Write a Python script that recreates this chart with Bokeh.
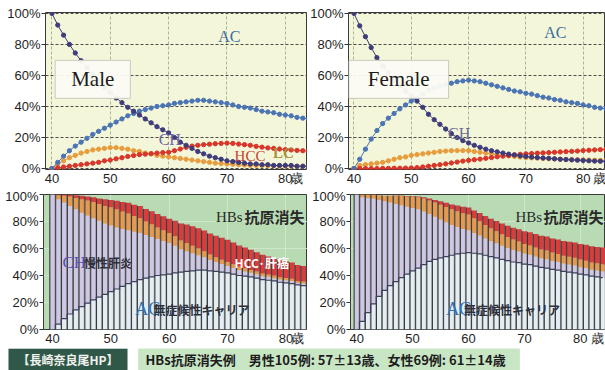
from bokeh.plotting import figure
from bokeh.layouts import column, row
from bokeh.models import (Range1d, Label, FixedTicker, PrintfTickFormatter,
                          ColumnDataSource, BoxAnnotation)
from bokeh.embed import file_html
from bokeh.resources import INLINE

# Age (years) on the x axis
ages = list(range(40, 85))

# Male: share of carriers in each clinical state (%)
male_ac = [0, 4, 8, 11.5, 14.5, 17, 19.5, 22, 24, 26, 28, 30, 32, 34, 35.5, 37, 38, 39,
           40, 40.5, 41, 42, 42.5, 43, 43.5, 44, 44, 43.5, 43, 42.5, 42, 41, 40, 39.5,
           39, 38, 37, 36.5, 36, 35, 34.5, 34, 33, 32.5, 32]
male_ch = [100, 92.5, 86, 80, 74.5, 69.5, 65, 60.5, 56.5, 52.5, 49, 45.5, 42.5, 39.5, 37,
           34.5, 32, 29.5, 27, 25, 23, 20, 17, 15, 13, 11, 9.5, 8, 7, 6, 5, 4.5, 4, 3.5,
           3, 3, 2.5, 2.5, 2, 2, 2, 2, 1.5, 1.5, 1.5]
male_lc = [0, 3, 5, 7, 8.5, 10, 11, 12, 12.5, 13, 13.5, 13.5, 13, 12.5, 11.5, 11, 10,
           9.5, 8.5, 8, 7.5, 7, 6.5, 6, 5.5, 5, 4.5, 4, 3.5, 3.2, 3, 2.8, 2.5, 2.3, 2, 2,
           2, 1.8, 1.8, 1.7, 1.7, 1.6, 1.5, 1.5, 1.5]
male_hcc = [0, 0.5, 1, 1.5, 2, 2.5, 3, 3.5, 4, 5, 5.5, 6.3, 7, 7.8, 8.4, 9, 9.3, 9.6, 10,
            10.3, 10.5, 11.5, 12.6, 13.7, 14.5, 15, 15.4, 15.7, 16, 16.2, 16.4, 16.2,
            15.8, 15.4, 15, 14.3, 13.8, 13.3, 13, 12.6, 12.2, 12, 11.7, 11.5, 11.3]

# Female: share of carriers in each clinical state (%)
female_ac = [0, 6, 12.5, 19, 24.5, 29, 32.5, 35.5, 38.5, 41, 43.5, 45.5, 48, 50.5, 52,
             53, 54, 55, 56, 56.5, 57, 56.5, 56, 55, 54, 53, 52, 51, 50, 49.5, 48.5, 48,
             47, 46, 45.5, 44.5, 44, 43, 42.5, 42, 41, 40.5, 39.5, 39, 38.5]
female_ch = [100, 92, 85, 78, 71.5, 66, 61.5, 57.5, 53.5, 50, 46.5, 43.5, 39.5, 35, 31.5,
             28.5, 25.5, 22.5, 20, 18, 16.5, 15, 13.7, 12.5, 11.5, 10.8, 10, 9.3, 8.8,
             8.2, 7.8, 7.4, 7.1, 6.8, 6.6, 6.3, 6, 5.8, 5.6, 5.4, 5.2, 5, 4.8, 4.7, 4.6]
female_lc = [0, 2, 2.5, 3, 3.5, 4, 5, 6, 7, 7.5, 8.5, 9, 9.5, 10, 10.5, 11, 11.3, 11.5,
             11.6, 11.6, 11.6, 11, 10.5, 10, 9.5, 9, 8.5, 8.2, 7.8, 7.4, 7, 6.9, 6.7, 6.5,
             6.4, 6.2, 6, 5.9, 5.8, 5.7, 5.6, 5.5, 5.4, 5.3, 5.2]
female_hcc = [0, 0, 0, 0, 0, 0.1, 0.1, 0.2, 0.2, 0.3, 0.4, 0.6, 1, 1.5, 2, 2.5, 3, 3.6,
              4.2, 4.8, 5.3, 5.7, 6.1, 6.6, 7.1, 7.6, 8, 8.4, 8.8, 9.2, 9.5, 9.7, 9.9,
              10.1, 10.3, 10.5, 10.7, 10.9, 11.1, 11.3, 11.6, 11.8, 12, 12.2, 12.4]

x_ticks = [40, 50, 60, 70, 80]
y_ticks = [0, 20, 40, 60, 80, 100]
unit_label = "歳"

SANS = "Liberation Sans"
SERIF = "Liberation Serif"
CJK = "Noto Sans CJK JP"

C_AC, C_CH, C_LC, C_HCC = "#4a74b4", "#3e3c7a", "#e79d3e", "#d8362a"
B_AC, B_CH, B_LC, B_HCC = "#e3edf3", "#cec8e4", "#e49a52", "#dc3b3b"


def style_axes(p, unit_at):
    # the unit sits on an extra tick at the right end of the age axis
    p.xaxis.ticker = FixedTicker(ticks=x_ticks + [unit_at])
    p.xaxis.major_label_overrides = {unit_at: unit_label}
    p.xgrid.ticker = FixedTicker(ticks=x_ticks)
    p.yaxis.ticker = FixedTicker(ticks=y_ticks)
    p.yaxis.formatter = PrintfTickFormatter(format="%d%%")
    for ax in (p.xaxis[0], p.yaxis[0]):
        ax.axis_line_color = None
        ax.minor_tick_line_color = None
        ax.major_label_text_font = SANS
        ax.major_label_text_font_size = "13px"
        ax.major_label_text_color = "#1e1e1e"
    p.xaxis.major_tick_line_color = None
    p.xaxis.major_tick_out = 0
    p.xaxis.major_label_standoff = 1
    p.yaxis.major_tick_in = 0
    p.yaxis.major_tick_out = 4
    p.yaxis.major_tick_line_color = "#333333"
    p.yaxis.major_label_standoff = 1


def make_top(width, border_left, x_start, x_end, unit_at, ac, ch, lc, hcc):
    p = figure(width=width, height=188, x_range=Range1d(x_start, x_end),
               y_range=Range1d(-0.6, 100.6), output_backend="svg",
               toolbar_location=None, min_border_left=border_left,
               min_border_right=0, min_border_top=12, min_border_bottom=14,
               background_fill_color="#f4f6d9", border_fill_color="white",
               outline_line_color="#3a3a3a")
    style_axes(p, unit_at)
    p.ygrid.grid_line_color = "#4d4d4d"
    p.ygrid.grid_line_dash = "3 2"
    p.xgrid.grid_line_color = "#a8b398"
    p.xgrid.grid_line_dash = "3 2"
    src = ColumnDataSource(dict(age=ages, ac=ac, ch=ch, lc=lc, hcc=hcc))
    for key, col in (("lc", C_LC), ("hcc", C_HCC), ("ac", C_AC), ("ch", C_CH)):
        p.line("age", key, source=src, line_color=col, line_width=1)
        p.scatter("age", key, source=src, size=4.3, fill_color=col, line_color=col)
    return p


def make_bottom(width, border_left, x_start, x_end, unit_at, ac, ch, lc, hcc):
    p = figure(width=width, height=160, x_range=Range1d(x_start, x_end),
               y_range=Range1d(0, 100), output_backend="svg",
               toolbar_location=None, min_border_left=border_left,
               min_border_right=0, min_border_top=6, min_border_bottom=14,
               background_fill_color="#b8dbb3", border_fill_color="white",
               outline_line_color="#3a3a3a")
    style_axes(p, unit_at)
    p.grid.grid_line_color = "#d3eacf"
    p.grid.grid_line_alpha = 0.8
    total = [a + b + c + d for a, b, c, d in zip(ac, ch, lc, hcc)]
    src = ColumnDataSource(dict(age=ages, ac=ac, ch=ch, lc=lc, hcc=hcc, total=total,
                                left=[a - 0.45 for a in ages],
                                right=[a + 0.45 for a in ages]))
    p.vbar_stack(["ac", "ch", "lc", "hcc"], x="age", width=0.9, source=src,
                 color=[B_AC, B_CH, B_LC, B_HCC], line_color=None)
    p.segment(x0="left", y0=0, x1="left", y1="total", source=src,
              line_color="#2a2a2a", line_width=1)
    p.segment(x0="right", y0=0, x1="right", y1="total", source=src,
              line_color="#5a5a5a", line_width=0.6)
    p.step("age", "ac", source=src, mode="center", line_color="#3c4158", line_width=1.2)
    return p


def boxed_name(p, x, y, text, pad):
    p.add_layout(Label(x=x, y=y, text=text, text_align="center", text_baseline="middle",
                       text_font=SERIF, text_font_size="21px", text_color="#b9b9a8",
                       text_alpha=0.0, x_offset=3, y_offset=-3,
                       background_fill_color="#b9b9a8",
                       background_fill_alpha=0.45, padding=(pad, 7)))
    p.add_layout(Label(x=x, y=y, text=text, text_align="center", text_baseline="middle",
                       text_font=SERIF, text_font_size="21px", text_color="#1b1b1b",
                       background_fill_color="#fbfbf4", background_fill_alpha=0.95,
                       border_line_color="#c9c9bd", padding=(pad, 7)))


def tag(p, x, y, text, color, size, font=SERIF, style="normal"):
    p.add_layout(Label(x=x, y=y, text=text, text_font=font, text_font_size=size,
                       text_color=color, text_font_style=style, text_baseline="middle"))


# ---- top row: fractions by state ----
top_m = make_top(307, 45, 38.9, 83.8, 82, male_ac, male_ch, male_lc, male_hcc)
tag(top_m, 68.5, 85, "AC", "#3b6d9c", "16px")
tag(top_m, 58.3, 18.5, "CH", "#6a68a8", "16px")
tag(top_m, 71.3, 8, "HCC", "#c8402c", "15px")
tag(top_m, 77.9, 10.0, "LC", "#a8923a", "15px", SERIF, "bold")
boxed_name(top_m, 47.0, 57.5, "Male", 16)

top_f = make_top(298, 40, 39.04, 83.9, 83, female_ac, female_ch, female_lc, female_hcc)
tag(top_f, 73.2, 88, "AC", "#3b6d9c", "16px")
tag(top_f, 56.4, 22.5, "CH", "#6a6d98", "16px")
boxed_name(top_f, 47.8, 57.5, "Female", 19)

# ---- bottom row: stacked composition ----
bot_m = make_bottom(307, 43, 38.46, 83.7, 82, male_ac, male_ch, male_lc, male_hcc)
tag(bot_m, 68.0, 83.5, "HBs", "#2a2a2a", "15px")
tag(bot_m, 72.9, 83.5, "抗原消失", "#2a2a2a", "15px", CJK, "bold")
tag(bot_m, 41.7, 49.6, "CH", "#5a4fb5", "17px")
tag(bot_m, 45.4, 49.6, "慢性肝炎", "#2f2f3a", "12px", CJK, "bold")
tag(bot_m, 71.2, 50, "HCC·肝癌", "#ffffff", "12px", CJK, "bold")
tag(bot_m, 54.2, 15, "AC", "#2f6fb8", "18px")
tag(bot_m, 57.3, 14.5, "無症候性キャリア", "#2f2f3a", "12px", CJK, "bold")

bot_f = make_bottom(298, 43, 38.9, 84.5, 83, female_ac, female_ch, female_lc, female_hcc)
tag(bot_f, 68.4, 83.5, "HBs", "#2a2a2a", "15px")
tag(bot_f, 73.4, 83.5, "抗原消失", "#2a2a2a", "15px", CJK, "bold")
tag(bot_f, 56.0, 15, "AC", "#2f6fb8", "18px")
tag(bot_f, 59.2, 14.5, "無症候性キャリア", "#2f2f3a", "12px", CJK, "bold")

# ---- footer captions ----
foot = figure(width=605, height=22, x_range=Range1d(0, 605), y_range=Range1d(0, 22),
              output_backend="svg", toolbar_location=None, min_border=0,
              x_axis_location=None, y_axis_location=None,
              background_fill_color="white", border_fill_color="white",
              outline_line_color=None)
foot.grid.visible = False
foot.add_layout(BoxAnnotation(left=8, right=127, bottom=0, top=22,
                              fill_color="#2f5848", fill_alpha=1,
                              line_color="#8fa79a", line_width=1))
foot.add_layout(Label(x=67.5, y=11, text="【長崎奈良尾HP】", text_align="center",
                      text_baseline="middle", text_font=CJK, text_font_style="bold",
                      text_font_size="12px", text_color="#f1f1ee"))
foot.add_layout(BoxAnnotation(left=138, right=519, bottom=0, top=22,
                              fill_color="#c9e6c4", fill_alpha=1,
                              line_color="#a6cfa2", line_width=1))
foot.add_layout(Label(x=145, y=11, text="HBs抗原消失例　男性105例: 57±13歳、女性69例: 61±14歳",
                      text_baseline="middle", text_font=CJK, text_font_style="bold",
                      text_font_size="13px", text_color="#1d1d1d"))

layout = column(row(top_m, top_f), row(bot_m, bot_f), foot)

with open("out.html", "w") as f:
    f.write(file_html(layout, INLINE))
